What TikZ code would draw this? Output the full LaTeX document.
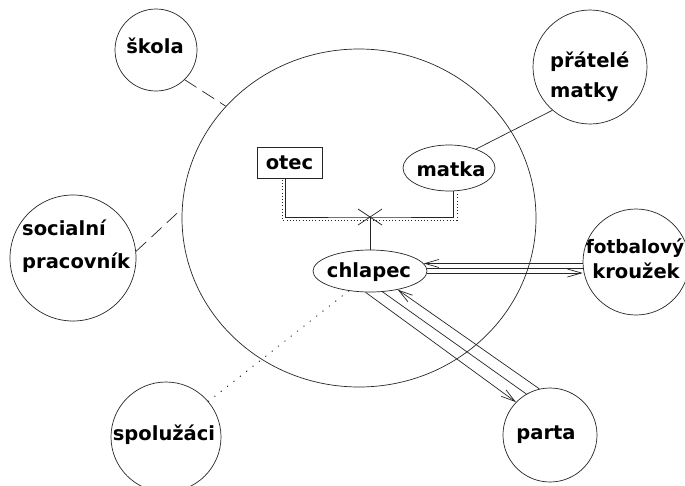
\documentclass[tikz,border=0pt]{standalone}
\usepackage{fontspec}
\setmainfont{DejaVu Sans}
\usetikzlibrary{shapes.geometric,arrows.meta,calc}

\begin{document}
\begin{tikzpicture}[x=1pt,y=-1pt,
  >={Straight Barb[length=14pt,width=8pt]},
  lbl/.style={inner sep=0pt,font=\fontsize{19.5}{23}\selectfont\bfseries},
  ring/.style={draw=black!85,circle,inner sep=0pt,line width=0.7pt},
  oval/.style={draw=black!85,ellipse,inner sep=0pt,line width=0.7pt},
  link/.style={draw=black!85,line width=0.7pt},
  dashlink/.style={link,dash pattern=on 14pt off 7pt},
  dotlink/.style={link,line width=1pt,line cap=round,dash pattern=on 0.6pt off 7.5pt},
  finedots/.style={link,line width=0.8pt,dash pattern=on 1pt off 2.2pt}
]
\useasboundingbox (0,0) rectangle (685,485);
\fill[white] (0,0) rectangle (685,485);

% household
\node[oval,minimum width=354pt,minimum height=338pt] (home) at (359,218) {};

% outer systems
\node[ring,minimum size=82pt]  (skola)   at (156,50)  {};
\node[ring,minimum size=126pt] (social)  at (73,258)  {};
\node[ring,minimum size=114pt] (pratele) at (590,67)  {};
\node[ring,minimum size=106pt] (fotbal)  at (636,262) {};
\node[ring,minimum size=110pt] (spoluz)  at (166,437) {};
\node[ring,minimum size=94pt]  (parta)   at (550,435) {};

% family members
\node[draw=black!85,line width=0.7pt,minimum width=65pt,minimum height=31pt,inner sep=0pt,
      font=\fontsize{19.5}{23}\selectfont\bfseries] (otec) at (289.5,162.5) {otec};
\node[oval,minimum width=92pt,minimum height=46pt]  (matka)   at (449,168) {};
\node[oval,minimum width=114pt,minimum height=42pt] (chlapec) at (370,271) {};

% labels
\node[lbl,anchor=base] (matka-t)   at (451,176) {matka};
\node[lbl,anchor=base] (chlapec-t) at (369,277) {chlapec};
\node[lbl,anchor=base] (skola-t)   at (155,53)  {škola};
\node[lbl,anchor=base west] (soc-a) at (22,235) {socialní};
\node[lbl,anchor=base west] (soc-b) at (22,268) {pracovník};
\node[lbl,anchor=base west] (prat-a) at (550,67) {přátelé};
\node[lbl,anchor=base west] (prat-b) at (550,97) {matky};
\node[lbl,anchor=base,font=\fontsize{18.5}{23}\selectfont\bfseries] (fot-a) at (635,253) {fotbalový};
\node[lbl,anchor=base] (fot-b) at (636,278) {kroužek};
\node[lbl,anchor=base] (spoluz-t) at (164,440) {spolužáci};
\node[lbl,anchor=base] (parta-t)  at (546,439) {parta};

% parents joined, child below
\coordinate (join) at (370,217);
\draw[link] ($(otec.south)+(-4.5,0)$) |- (join) -| ($(matka.south)+(4,0)$);
\draw[finedots] ($(otec.south)+(-7.5,1.5)$) |- ($(join)+(0,3)$) -| ($(matka.south)+(8,3)$);
\draw[link] ($(join)+(-12,-8)$) -- ($(join)+(12,8)$);
\draw[link] ($(join)+(-12,8)$) -- ($(join)+(12,-8)$);
\draw[link] (join) -- (chlapec.north);

% ties to the outside
\draw[dashlink] (skola.-46) -- (home.140.5);
\draw[dashlink] (social.6) -- (home.177);
\draw[link] (pratele.-131.5) -- (matka.35);
\draw[dotlink] (chlapec.-137) -- (spoluz.40);

% chlapec -- fotbalový kroužek
\draw[link,<-] (chlapec.8.6) -- (chlapec.8.6 -| fotbal.west);
\draw[link] (chlapec.3) -- (chlapec.3 -| fotbal.west);
\draw[link,->] (chlapec.-2) -- (chlapec.-2 -| fotbal.west);

% chlapec -- parta
\draw[link,->] (chlapec.-102) -- (parta.136);
\draw[link] (chlapec.-59) -- (parta.120.5);
\draw[link,->] (parta.103) -- (chlapec.-34);
\end{tikzpicture}
\end{document}
